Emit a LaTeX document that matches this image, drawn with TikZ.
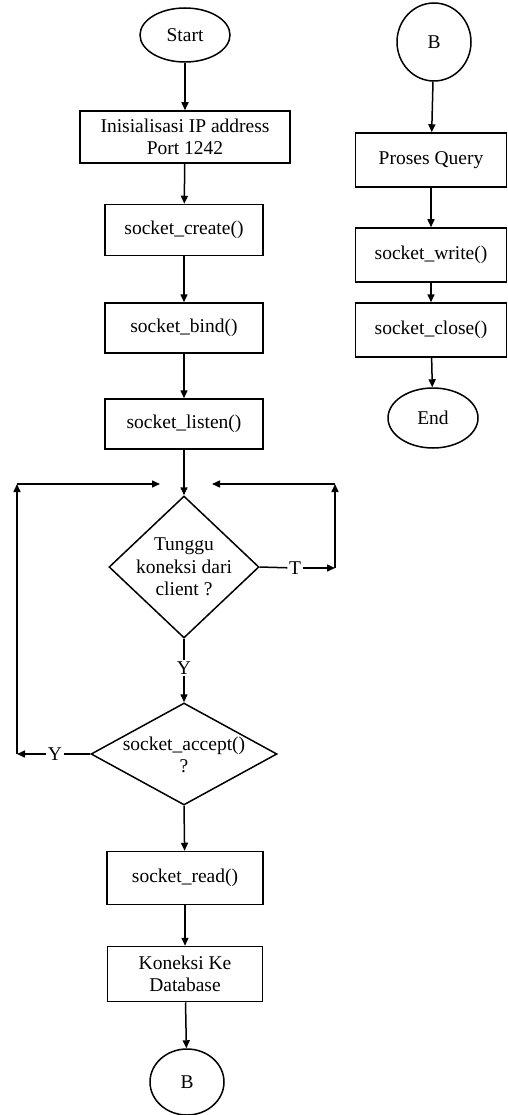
\documentclass[tikz,border=0pt]{standalone}
\usepackage{fontspec}
\setmainfont{Liberation Serif}
\usetikzlibrary{shapes.geometric,arrows.meta}
\begin{document}
\begin{tikzpicture}[x=1pt,y=-1pt,
  every node/.style={font=\fontsize{19.5}{22.5}\selectfont},
  line width=1.5pt,
  arr/.style={-{Triangle[length=8pt,width=7pt]}},
  box/.style={draw,rectangle,align=center,inner sep=0pt},
  term/.style={draw,ellipse,inner sep=0pt},
  dia/.style={draw,diamond,inner sep=0pt},
  lbl/.style={fill=white,inner sep=1pt}]
\useasboundingbox (0,0) rectangle (508,1115);
% left column
\node[term,minimum width=90,minimum height=54] (start) at (185,35) {Start};
\node[box,minimum width=210,minimum height=52] (init) at (185,137) {Inisialisasi IP address\\Port 1242};
\node[box,minimum width=158,minimum height=51] (create) at (184,230) {socket\_create()};
\node[box,minimum width=158,minimum height=50] (bind) at (184,328) {socket\_bind()};
\node[box,minimum width=158,minimum height=50] (listen) at (184,424) {socket\_listen()};
\node[dia,minimum width=150,minimum height=142] (d1) at (184,567) {};
\node[align=center] (d1t) at (d1) {Tunggu\\koneksi dari\\client ?};
\node[dia,minimum width=186,minimum height=102] (d2) at (184,754) {};
\node[align=center] (d2t) at (184,755) {socket\_accept()\\?};
\node[box,minimum width=156,minimum height=53] (read) at (185,878) {socket\_read()};
\node[box,minimum width=155,minimum height=55] (db) at (185,974) {Koneksi Ke\\Database};
\node[term,minimum width=74,minimum height=66] (b1) at (187,1082) {B};
% labels
\node[lbl] (ly) at (184,668) {Y};
\node[lbl] (lt) at (295,568) {T};
\node[lbl] (ly2) at (55,754) {Y};
% loop coordinates
\coordinate (rc1) at (335,568);
\coordinate (rc2) at (335,484);
\coordinate (rc3) at (212,484);
\coordinate (lc1) at (17,754);
\coordinate (lc2) at (17,484);
\coordinate (lc3) at (160,484);
% right column
\node[term,minimum width=74,minimum height=78] (b2) at (434,42) {B};
\node[box,minimum width=151,minimum height=54] (query) at (431,160) {Proses Query};
\node[box,minimum width=151,minimum height=54] (write) at (431,255) {socket\_write()};
\node[box,minimum width=151,minimum height=54] (close) at (431,330) {socket\_close()};
\node[term,minimum width=90,minimum height=60] (end) at (433,418) {End};
% connectors left
\draw[arr] (start) -- (init);
\draw[arr] (init) -- (create);
\draw[arr] (create) -- (bind);
\draw[arr] (bind) -- (listen);
\draw[arr] (listen) -- (d1.north);
\draw (d1.south) -- (ly);
\draw[arr] (ly) -- (d2.north);
\draw (d1.east) -- (lt);
\draw[arr] (lt) -- (rc1);
\draw[arr] (rc1) -- (rc2);
\draw[arr] (rc2) -- (rc3);
\draw (d2.west) -- (ly2);
\draw[arr] (ly2) -- (lc1);
\draw[arr] (lc1) -- (lc2);
\draw[arr] (lc2) -- (lc3);
\draw[arr] (d2.south) -- (read);
\draw[arr] (read) -- (db);
\draw[arr] (db) -- (b1);
% connectors right
\draw[arr] (b2) -- (query);
\draw[arr] (query) -- (write);
\draw[arr] (write) -- (close);
\draw[arr] (close) -- (end);
\end{tikzpicture}
\end{document}
